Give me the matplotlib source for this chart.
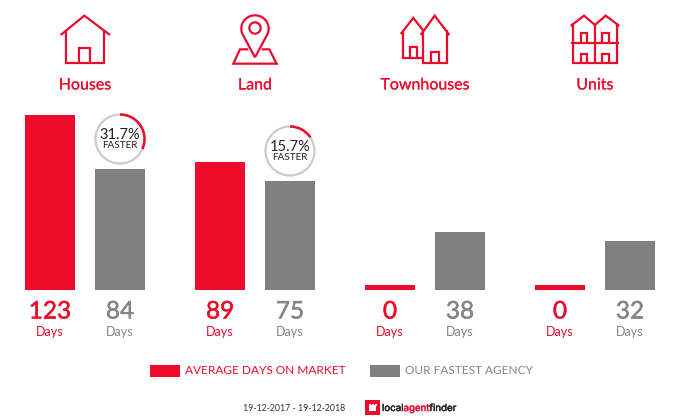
import numpy as np
import matplotlib
matplotlib.use('Agg')
import matplotlib.pyplot as plt
from matplotlib import patches
from matplotlib import patheffects

# Data
categories = ['Houses', 'Land', 'Townhouses', 'Units']
average_days = [123, 89, 0, 0]
fastest_days = [84, 75, 38, 32]
faster_pct = [31.7, 15.7, None, None]
day_label = 'Days'
legend_labels = ['AVERAGE DAYS ON MARKET', 'OUR FASTEST AGENCY']
date_range = '19-12-2017 - 19-12-2018'

RED = '#EE0A2A'
GREY = '#808080'
GREY_TEXT = '#858585'
DARK = '#222222'
FLOOR = 3.6  # every bar has a stub below zero, so a 0 is still visible
ICON_LW = 1.6


def heavy(color, w=0.1):
  # Lato has no medium weight here, thicken the regular one a little
  return [patheffects.withStroke(linewidth=w, foreground=color)]


plt.rcParams['font.family'] = ['Lato', 'DejaVu Sans']

fig = plt.figure(figsize=(7, 4.2), dpi=100)

# Overlay in pixel coordinates for icons and text
ax = fig.add_axes([0, 0, 1, 1])
ax.set_xlim(0, 700)
ax.set_ylim(420, 0)
ax.axis('off')

# Bars have their own axes with a scale in days
ax_bar = fig.add_axes([0, (420 - 290) / 420, 1, 175 / 420])
ax_bar.set_xlim(0, 700)
ax_bar.set_ylim(-FLOOR, max(average_days))
ax_bar.axis('off')
ax_bar.patch.set_alpha(0)

group_x = np.array([85, 255, 425, 595])
avg_x = group_x - 35
fast_x = group_x + 35

ax_bar.bar(avg_x, np.array(average_days) + FLOOR, bottom=-FLOOR, width=50, color=RED)
ax_bar.bar(fast_x, np.array(fastest_days) + FLOOR, bottom=-FLOOR, width=50, color=GREY)


def zline(pts, ox):
  # Points come from 3x crops of the icons
  xs = [ox + p[0] / 3 for p in pts]
  ys = [p[1] / 3 for p in pts]
  ax.plot(xs, ys, color=RED, lw=ICON_LW, solid_joinstyle='miter', solid_capstyle='butt')


def door(x0, x1, top, bottom, ox):
  zline([(x0, bottom), (x0, top), (x1, top), (x1, bottom)], ox)


# House
zline([(92, 105), (163, 47), (240, 105)], 30)
zline([(107, 90), (107, 190), (222, 190), (222, 90)], 30)
door(148, 181, 143, 190, 30)

# Land pin and map
pin_t = np.radians(np.linspace(-205, 25, 60))
head_x = 675 + 41 * np.cos(pin_t)
head_y = 86 + 40 * np.sin(pin_t)
zline([(675, 172)] + list(zip(head_x, head_y)) + [(675, 172)], 30)
ax.add_patch(patches.Circle((30 + 675 / 3, 84 / 3), 17 / 3, fill=False, ec=RED, lw=ICON_LW))
zline([(655, 148), (630, 148), (610, 191), (740, 191), (718, 148), (695, 148)], 30)

# Townhouses
zline([(122, 102), (160, 54), (190, 92)], 360)
zline([(130, 92), (130, 175), (190, 175)], 360)
zline([(182, 105), (224, 47), (268, 105)], 360)
zline([(190, 90), (190, 190), (260, 190), (260, 90)], 360)
door(151, 171, 141, 175, 360)
door(214, 236, 155, 190, 360)

# Units
zline([(632, 78), (672, 47), (705, 75), (737, 47), (778, 78)], 360)
zline([(640, 70), (640, 190), (770, 190), (770, 70)], 360)
zline([(705, 75), (705, 190)], 360)
zline([(632, 128), (778, 128)], 360)
for x0 in [663, 727]:
  door(x0, x0 + 19, 98, 128, 360)
  door(x0, x0 + 19, 162, 190, 360)

# Category names, value labels
for i, name in enumerate(categories):
  ax.text(group_x[i], 85.5, name, color=RED, fontsize=11.5, ha='center', va='center', path_effects=heavy(RED))
  ax.text(avg_x[i], 312, str(average_days[i]), color=RED, fontsize=17.5, ha='center', va='center', path_effects=heavy(RED, 0.35))
  ax.text(fast_x[i], 312, str(fastest_days[i]), color=GREY_TEXT, fontsize=17.5, ha='center', va='center', path_effects=heavy(GREY_TEXT, 0.35))
  ax.text(avg_x[i], 331.5, day_label, color=RED, fontsize=9, ha='center', va='center')
  ax.text(fast_x[i], 331.5, day_label, color=GREY_TEXT, fontsize=9, ha='center', va='center')

# Faster gauges sit above the grey bars
gauge_y = [139, 151]
for i, pct in enumerate(faster_pct):
  if pct is None:
    continue
  cx, cy = fast_x[i], gauge_y[i]
  ax.add_patch(patches.Circle((cx, cy), 24.5, fc='white', ec='#CCCCCC', lw=1.6))
  ax.add_patch(patches.Arc((cx, cy), 49, 49, theta1=-90, theta2=-90 + 3.6 * pct, color=RED, lw=1.8))
  ax.text(cx, cy - 4, '%.1f%%' % pct, color=DARK, fontsize=10.5, ha='center', va='center')
  ax.text(cx, cy + 6.5, 'FASTER', color=DARK, fontsize=7.2, ha='center', va='center')

# Legend
ax.add_patch(patches.Rectangle((150, 365), 30, 12, color=RED, lw=0))
ax.text(185, 371, legend_labels[0], color=RED, fontsize=8.6, ha='left', va='center')
ax.add_patch(patches.Rectangle((370, 365), 30, 12, color=GREY, lw=0))
ax.text(405, 371, legend_labels[1], color=GREY_TEXT, fontsize=8.6, ha='left', va='center')

# Footer with logo
ax.text(243, 408.5, date_range, color='#333333', fontsize=6.3, ha='left', va='center')
ax.add_patch(patches.Rectangle((365, 400), 15, 15, color=RED, lw=0))
ax.add_patch(patches.Rectangle((369, 405), 7, 6, color='white', lw=0))
for tooth_x in [368.5, 371.5, 374.5]:
  ax.add_patch(patches.Rectangle((tooth_x, 403.5), 2, 2, color='white', lw=0))
t1 = ax.text(382, 408, 'local', color=DARK, fontsize=7, ha='left', va='center', family='Inter', path_effects=heavy(DARK, 0.3))
t2 = ax.annotate('agent', xy=(1, 0), xycoords=t1, va='bottom', color=RED, fontsize=7, family='Inter', path_effects=heavy(RED, 0.3))
ax.annotate('finder', xy=(1, 0), xycoords=t2, va='bottom', color=DARK, fontsize=7, family='Inter', path_effects=heavy(DARK, 0.3))

fig.savefig('out.png', dpi=100)
